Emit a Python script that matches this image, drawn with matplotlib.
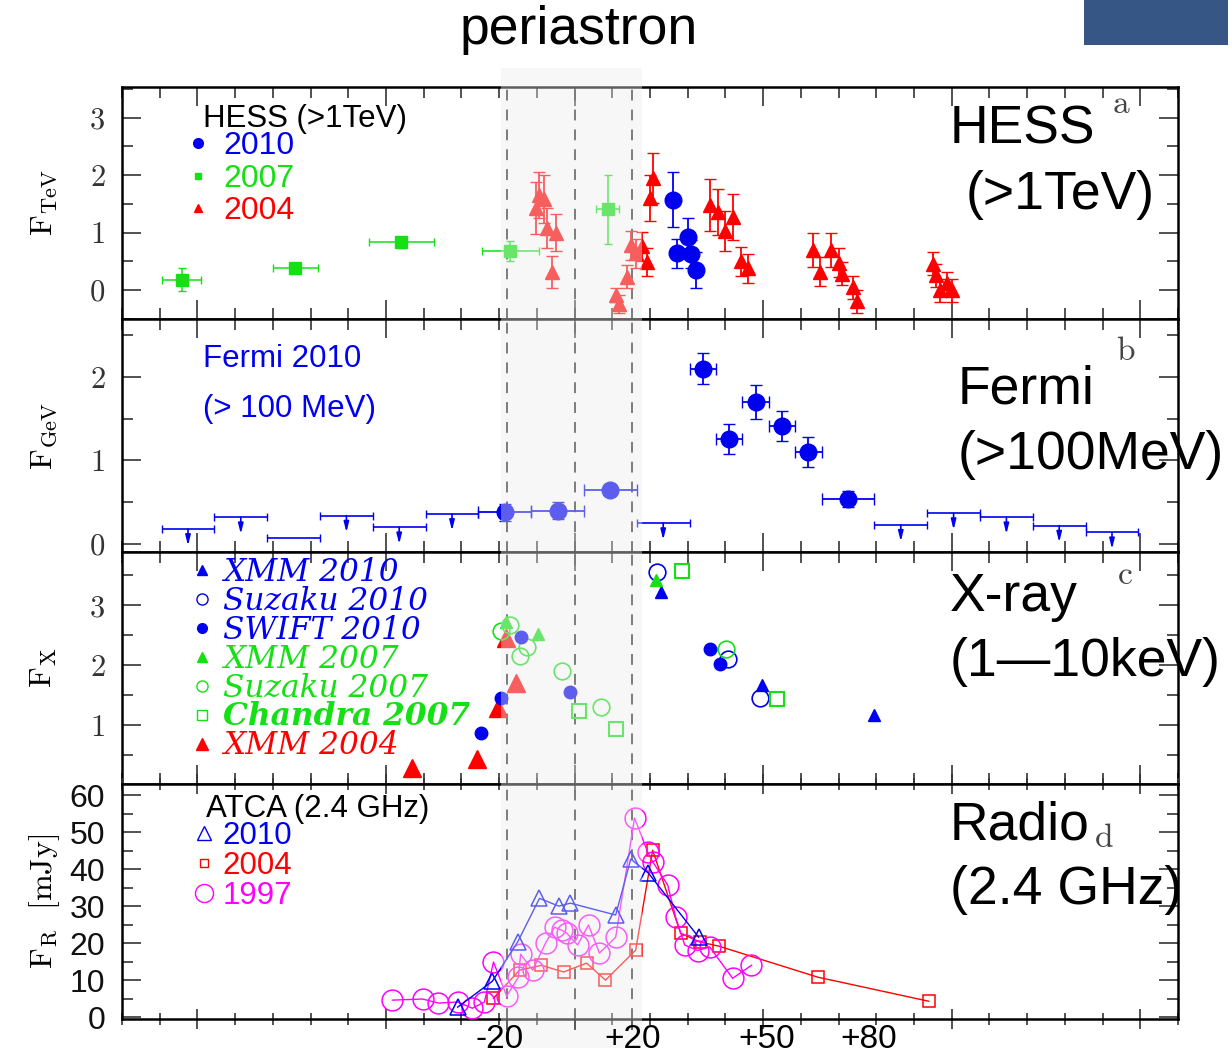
import matplotlib
matplotlib.use('Agg')
from matplotlib import pyplot as plt
from matplotlib.ticker import MultipleLocator, FixedLocator
from matplotlib.lines import Line2D
from matplotlib.patches import Rectangle
from matplotlib import transforms

plt.rcParams['font.family'] = ['Liberation Sans', 'DejaVu Sans']
plt.rcParams['mathtext.fontset'] = 'cm'

# dias respecto al periastro
disco_x = [-18.0, 0.0, 15.1]
banda_x = [-19.6, 18.0]

# ---- panel a: HESS ----
hess07_x = [-104.2, -74.0, -45.9, -17.0, 8.8]
hess07_y = [0.18, 0.38, 0.83, 0.68, 1.41]
hess07_xerr = [5.2, 6.0, 8.5, 7.6, 3.0]
hess07_yerr = [0.2, 0.06, 0.1, 0.18, 0.6]

hess10_x = [26.0, 27.1, 30.0, 31.0, 32.1]
hess10_y = [1.57, 0.64, 0.92, 0.63, 0.35]
hess10_yerr = [0.48, 0.25, 0.33, 0.25, 0.32]

hess04_x = [-10.1, -9.3, -8.2, -7.4, -5.0, -6.1, 10.9, 11.7, 13.8, 14.9, 16.4, 17.8,
            19.1, 19.9, 20.7, 35.8, 37.9, 39.8, 41.9, 44.0, 45.9, 63.1, 65.0, 67.9,
            70.0, 70.8, 73.7, 74.8, 95.0, 95.8, 96.8, 98.7, 100.0]
hess04_y = [1.43, 1.65, 1.58, 1.08, 1.00, 0.32, -0.09, -0.24, 0.23, 0.78, 0.64, 0.76,
            0.49, 1.60, 1.95, 1.48, 1.36, 1.03, 1.27, 0.50, 0.38, 0.70, 0.32, 0.70,
            0.48, 0.29, 0.05, -0.19, 0.46, 0.26, 0.00, 0.12, 0.00]
hess04_yerr = [0.45, 0.40, 0.42, 0.35, 0.32, 0.28, 0.12, 0.15, 0.20, 0.25, 0.25, 0.25,
               0.25, 0.40, 0.43, 0.45, 0.40, 0.35, 0.40, 0.25, 0.25, 0.30, 0.25, 0.30,
               0.25, 0.20, 0.20, 0.20, 0.20, 0.20, 0.20, 0.20, 0.20]

# ---- panel b: Fermi ----
fermi_x = [-18.5, -4.5, 9.5, 34.0, 41.0, 48.0, 55.0, 62.0, 72.5]
fermi_xerr = [7, 7, 7, 3.5, 3.5, 3.5, 3.5, 3.5, 7]
fermi_y = [0.38, 0.40, 0.65, 2.10, 1.26, 1.70, 1.41, 1.10, 0.54]
fermi_yerr = [0.1, 0.1, 0.06, 0.19, 0.18, 0.2, 0.18, 0.18, 0.1]

fermi_ul_x = [-102.5, -88.5, -74.5, -60.5, -46.5, -32.5, 23.5, 86.5, 100.5, 114.5, 128.5, 142.5]
fermi_ul_y = [0.18, 0.32, 0.07, 0.34, 0.20, 0.36, 0.25, 0.23, 0.37, 0.32, 0.22, 0.14]

# ---- panel c: rayos X ----
xmm04_x = [-43.0, -26.0, -20.4, -18.3, -15.6]
xmm04_y = [0.28, 0.43, 1.28, 2.45, 1.70]
swift10_x = [-24.9, -19.4, -14.3, -1.1, 35.8, 38.5]
swift10_y = [0.87, 1.45, 2.47, 1.55, 2.27, 2.03]
swift10_yerr = [0.08, 0, 0, 0, 0, 0]
xmm10_x = [22.8, 49.6, 79.3]
xmm10_y = [3.23, 1.67, 1.17]
suz10_x = [21.8, 40.6, 49.1]
suz10_y = [3.55, 2.10, 1.45]
xmm07_x = [-18.3, -9.8, 21.5]
xmm07_y = [2.72, 2.53, 3.42]
suz07_x = [-19.6, -17.2, -14.6, -12.5, -3.4, 6.9, 40.1]
suz07_y = [2.57, 2.67, 2.15, 2.30, 1.90, 1.30, 2.28]
chan07_x = [1.1, 10.9, 28.6, 53.6]
chan07_y = [1.23, 0.93, 3.58, 1.43]

# ---- panel d: radio ----
r97_x = [-48.3, -40.3, -36.1, -31.0, -27.1, -23.9, -21.5, -18.0, -14.9, -14.3, -11.1,
         -7.7, -5.3, -3.4, -2.1, 0.8, 3.7, 6.6, 10.9, 15.9, 19.4, 20.7, 24.7, 26.8,
         29.2, 32.6, 35.8, 41.9, 46.9]
r97_y = [4.6, 4.9, 3.8, 4.1, 2.4, 4.1, 14.9, 5.7, 10.8, 17.0, 12.7, 20.0, 24.3, 23.5,
         22.7, 19.5, 24.9, 17.3, 21.6, 53.8, 44.6, 42.0, 35.7, 27.0, 19.5, 18.0, 19.0,
         10.5, 14.0]
r10_x = [-31.0, -21.8, -15.1, -9.3, -4.2, -1.1, 10.9, 14.9, 19.6, 32.9]
r10_y = [2.7, 9.7, 20.3, 32.1, 30.0, 30.8, 27.6, 42.7, 38.9, 21.6]
r04_x = [-21.5, -14.6, -8.8, -2.9, 3.2, 8.2, 16.2, 20.7, 28.1, 33.2, 38.2, 64.5, 93.9]
r04_y = [5.1, 12.7, 14.0, 12.2, 14.6, 10.0, 18.1, 45.1, 22.7, 20.3, 19.2, 10.8, 4.3]

etiq_x = [-20, 15.5, 51, 78]
etiq_txt = ['-20', '+20', '+50', '+80']

AZUL = '#0000f0'
VERDE = '#14e014'
ROJO = '#ff0000'
MAG = '#ff00ff'
W, H = 1232, 1060


def fx(px):
    return px / W


def fy(py):
    return 1 - py / H


def preparar(ax, ymin, ymax, ymaj, ymin_step, fuente='cmr10', tam=22, color='#333333'):
    ax.set_xlim(-120, 160)
    ax.set_ylim(ymin, ymax)
    ax.xaxis.set_major_locator(MultipleLocator(50))
    ax.xaxis.set_minor_locator(MultipleLocator(10))
    ax.yaxis.set_major_locator(FixedLocator(ymaj))
    ax.yaxis.set_minor_locator(MultipleLocator(ymin_step))
    ax.tick_params(which='both', direction='in', top=True, right=True,
                   labelbottom=False, color='#333333', width=1.2)
    ax.tick_params(which='major', length=14)
    ax.tick_params(which='minor', length=8)
    ax.tick_params(axis='y', labelsize=tam, pad=12, labelfontfamily=fuente,
                   labelcolor=color)
    for s in ax.spines.values():
        s.set_linewidth(1.8)
    for d in disco_x:
        ax.axvline(d, color='#222222', lw=1.3, ls=(0, (6, 5)), zorder=1)


fig = plt.figure(figsize=(12.32, 10.6), dpi=100)
izq, ancho = fx(122), (1178 - 122) / W
ax_a = fig.add_axes([izq, fy(319), ancho, 232 / H])
ax_b = fig.add_axes([izq, fy(552), ancho, 233 / H])
ax_c = fig.add_axes([izq, fy(784), ancho, 232 / H])
ax_d = fig.add_axes([izq, fy(1019), ancho, 235 / H])

# panel a
preparar(ax_a, -0.5, 3.53, [0, 1, 2, 3], 0.5)
ax_a.errorbar(hess07_x, hess07_y, xerr=hess07_xerr, yerr=hess07_yerr, fmt='s',
              color=VERDE, ms=8, capsize=3, elinewidth=1.1, zorder=3)
ax_a.errorbar(hess04_x, hess04_y, yerr=hess04_yerr, fmt='^', color=ROJO, ms=10,
              capsize=4, elinewidth=1.3, zorder=3)
ax_a.errorbar(hess10_x, hess10_y, yerr=hess10_yerr, fmt='o', color=AZUL, ms=12,
              capsize=4, elinewidth=1.3, zorder=4)
ax_a.text(fx(203 - 122) / ancho, 0.862, 'HESS (>1TeV)', transform=ax_a.transAxes,
          fontsize=22.5, va='center', ha='left')
ax_a.legend(handles=[Line2D([], [], marker='o', ls='none', color=AZUL, ms=7),
                     Line2D([], [], marker='s', ls='none', color=VERDE, ms=5),
                     Line2D([], [], marker='^', ls='none', color=ROJO, ms=6)],
            labels=['2010', '2007', '2004'], labelcolor=[AZUL, VERDE, ROJO],
            fontsize=23, frameon=False, loc='upper left', handlelength=0.6,
            handletextpad=0.5, labelspacing=0.08, borderpad=0, borderaxespad=0,
            bbox_to_anchor=(fx(188 - 122) / ancho, 0.809))
ax_a.set_ylabel(r'$\mathrm{F_{TeV}}$', fontsize=23)
ax_a.yaxis.set_label_coords(-0.06, 0.5)
ax_a.text(0.946, 0.925, 'a', transform=ax_a.transAxes, fontsize=24,
          family='cmr10', color='#444444', va='center', ha='center')

# panel b
preparar(ax_b, -0.096, 2.694, [0, 1, 2], 0.5)
ax_b.errorbar(fermi_ul_x, fermi_ul_y, xerr=7, fmt='none', ecolor=AZUL, capsize=3,
              elinewidth=1.2, zorder=3)
for xu, yu in zip(fermi_ul_x, fermi_ul_y):
    ax_b.annotate('', xy=(xu, yu - 0.2), xytext=(xu, yu),
                  arrowprops=dict(arrowstyle='-|>,head_length=0.6,head_width=0.15',
                                  color=AZUL, lw=1.2, shrinkA=0, shrinkB=0), zorder=3)
ax_b.errorbar(fermi_x, fermi_y, xerr=fermi_xerr, yerr=fermi_yerr, fmt='o', color=AZUL,
              ms=12, capsize=4, elinewidth=1.3, zorder=4)
ax_b.text(fx(203 - 122) / ancho, 0.83, 'Fermi 2010', transform=ax_b.transAxes,
          fontsize=22.5, color=AZUL, va='center')
ax_b.text(fx(203 - 122) / ancho, 0.615, '(> 100 MeV)', transform=ax_b.transAxes,
          fontsize=22.5, color=AZUL, va='center')
ax_b.set_ylabel(r'$\mathrm{F_{GeV}}$', fontsize=23)
ax_b.yaxis.set_label_coords(-0.06, 0.5)
ax_b.text(0.95, 0.86, 'b', transform=ax_b.transAxes, fontsize=24,
          family='cmr10', color='#444444', va='center', ha='center')

# panel c
preparar(ax_c, 0.02, 3.89, [1, 2, 3], 0.5)
ax_c.plot(xmm04_x, xmm04_y, '^', color=ROJO, ms=13, zorder=3)
ax_c.errorbar(swift10_x, swift10_y, yerr=swift10_yerr, fmt='o', color=AZUL, ms=9,
              elinewidth=1.2, zorder=4)
ax_c.plot(xmm10_x, xmm10_y, '^', color=AZUL, ms=9, zorder=4)
ax_c.plot(suz10_x, suz10_y, 'o', color=AZUL, mfc='none', ms=12, mew=1.2, zorder=4)
ax_c.plot(xmm07_x, xmm07_y, '^', color=VERDE, ms=8, zorder=4)
ax_c.plot(suz07_x, suz07_y, 'o', color=VERDE, mfc='none', ms=12, mew=1.2, zorder=4)
ax_c.plot(chan07_x, chan07_y, 's', color=VERDE, mfc='none', ms=10, mew=1.5, zorder=4)
leg_c = ax_c.legend(
    handles=[Line2D([], [], marker='^', ls='none', color=AZUL, ms=7),
             Line2D([], [], marker='o', ls='none', color=AZUL, mfc='none', ms=8),
             Line2D([], [], marker='o', ls='none', color=AZUL, ms=7),
             Line2D([], [], marker='^', ls='none', color=VERDE, ms=7),
             Line2D([], [], marker='o', ls='none', color=VERDE, mfc='none', ms=8),
             Line2D([], [], marker='s', ls='none', color=VERDE, mfc='none', ms=7),
             Line2D([], [], marker='^', ls='none', color=ROJO, ms=9)],
    labels=['XMM 2010', 'Suzaku 2010', 'SWIFT 2010', 'XMM 2007', 'Suzaku 2007',
            'Chandra 2007', 'XMM 2004'],
    labelcolor=[AZUL, AZUL, AZUL, VERDE, VERDE, VERDE, ROJO],
    prop=dict(family='DejaVu Serif', style='italic', size=22.5), frameon=False,
    loc='upper left', handlelength=0.6, handletextpad=0.35, labelspacing=-0.065,
    borderpad=0, borderaxespad=0, bbox_to_anchor=(fx(193 - 122) / ancho, 0.98))
leg_c.get_texts()[5].set_fontweight('bold')
ax_c.set_ylabel(r'$\mathrm{F_X}$', fontsize=23)
ax_c.yaxis.set_label_coords(-0.06, 0.5)
ax_c.text(0.95, 0.9, 'c', transform=ax_c.transAxes, fontsize=24,
          family='cmr10', color='#444444', va='center', ha='center')

# panel d
preparar(ax_d, -0.5, 63, [0, 10, 20, 30, 40, 50, 60], 5, fuente='Liberation Sans',
         tam=23, color='#111111')
ax_d.tick_params(axis='x', which='both', direction='inout')
ax_d.plot(r04_x, r04_y, '-s', color=ROJO, mfc='none', ms=9, lw=1.0, mew=1.1, zorder=3)
ax_d.plot(r97_x, r97_y, '-o', color=MAG, mfc='none', ms=15, lw=1.0, mew=1.1, zorder=3)
ax_d.plot(r10_x, r10_y, '-^', color=AZUL, mfc='none', ms=11, lw=1.0, mew=1.1, zorder=4)
ax_d.text(fx(206 - 122) / ancho, 0.893, 'ATCA (2.4 GHz)', transform=ax_d.transAxes,
          fontsize=22.5, va='center')
ax_d.legend(handles=[Line2D([], [], marker='^', ls='none', color=AZUL, mfc='none', ms=10),
                     Line2D([], [], marker='s', ls='none', color=ROJO, mfc='none', ms=6),
                     Line2D([], [], marker='o', ls='none', color=MAG, mfc='none', ms=13)],
            labels=['2010', '2004', '1997'], labelcolor=[AZUL, ROJO, MAG],
            fontsize=22.5, frameon=False, loc='upper left', handlelength=0.7,
            handletextpad=0.25, labelspacing=0.0, borderpad=0, borderaxespad=0,
            bbox_to_anchor=(fx(193 - 122) / ancho, 0.842))
ax_d.set_ylabel(r'$\mathrm{F_R\ \ [mJy]}$', fontsize=23)
ax_d.yaxis.set_label_coords(-0.057, 0.5)
ax_d.text(0.93, 0.77, 'd', transform=ax_d.transAxes, fontsize=24,
          family='cmr10', color='#444444', va='center', ha='center')

# banda del periastro, encima de todo como un velo
mezcla = transforms.blended_transform_factory(ax_d.transData, fig.transFigure)
fig.patches.append(Rectangle((banda_x[0], fy(1048)), banda_x[1] - banda_x[0],
                             fy(68) - fy(1048), transform=mezcla, facecolor='#ececec',
                             edgecolor='none', alpha=0.4, zorder=10))
for d in disco_x:
    fig.lines.append(Line2D([d, d], [fy(1030), fy(1019)], transform=mezcla,
                            color='#555555', lw=1.3, ls=(0, (6, 5)), zorder=11))

# etiquetas del eje x, por encima del velo
for xt, tt in zip(etiq_x, etiq_txt):
    fig.text(xt, fy(1040), tt, transform=mezcla, fontsize=24, ha='center',
             va='center', zorder=12)

# rotulos de la derecha
rotulos = [('HESS', 950, 130), ('(>1TeV)', 966, 195), ('Fermi', 958, 390),
           ('(>100MeV)', 958, 455), ('X-ray', 950, 597), ('(1—10keV)', 950, 662),
           ('Radio', 950, 826), ('(2.4 GHz)', 950, 890)]
for txt, px, py in rotulos:
    fig.text(fx(px), fy(py), txt, fontsize=38.5, ha='left', va='center', zorder=12)

fig.text(fx(579), fy(30), 'periastron', fontsize=38.5, ha='center', va='center')
fig.patches.append(Rectangle((fx(1084), fy(45)), (1228 - 1084) / W, 45 / H,
                             transform=fig.transFigure, facecolor='#365785',
                             edgecolor='none'))

fig.savefig('out.png', dpi=100)
